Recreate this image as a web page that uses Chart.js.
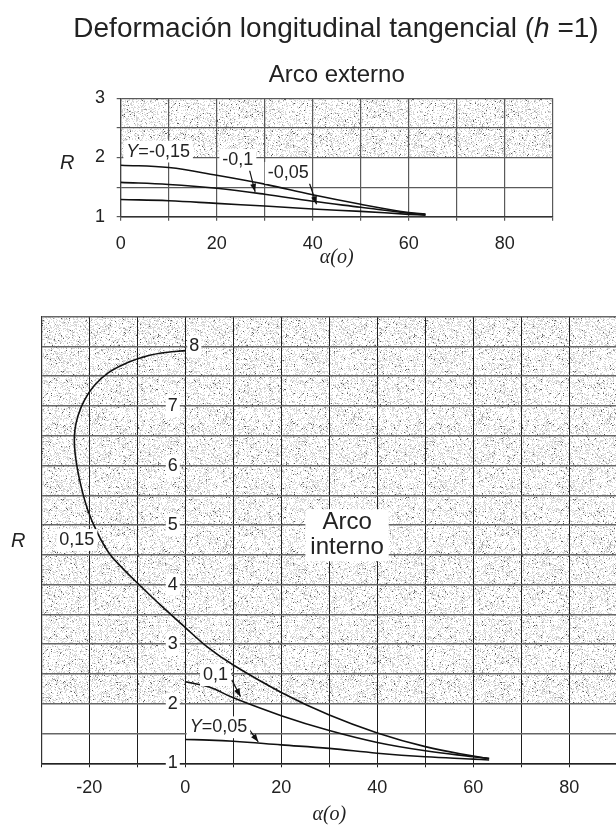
<!DOCTYPE html>
<html>
<head>
<meta charset="utf-8">
<script src="https://cdn.jsdelivr.net/npm/chart.js@4.4.0/dist/chart.umd.min.js"></script>
<style>
  html, body { margin: 0; padding: 0; background: #fff; }
  body { position: relative; width: 616px; height: 827px; overflow: hidden; font-family: "Liberation Sans", Arial, sans-serif; color: #222; }
  #title { position: absolute; z-index: 2; left: 0; top: 10px; width: 672px; line-height: 36px; text-align: center; font-size: 28px; white-space: nowrap; }
  .rlab { position: absolute; z-index: 2; font-style: italic; font-size: 20px; line-height: 20px; }
  #top { position: absolute; left: 0; top: 0; }
  #bot { position: absolute; left: 0; top: 290px; }
</style>
</head>
<body>
<canvas id="top" width="616" height="275"></canvas>
<canvas id="bot" width="660" height="537"></canvas>
<div id="title">Deformación longitudinal tangencial (<i>h</i> =1)</div>
<span class="rlab" style="left:60px; top:152px;">R</span>
<span class="rlab" style="left:11px; top:530px;">R</span>
<script>
// arco externo (Y negative)
const alphaExt = [0, 10, 20, 30, 40, 50, 60, 63.5];
const rExtM015 = [1.87, 1.83, 1.70, 1.55, 1.37, 1.21, 1.07, 1.045];
const rExtM010 = [1.58, 1.545, 1.48, 1.38, 1.26, 1.16, 1.06, 1.035];
const rExtM005 = [1.29, 1.27, 1.225, 1.18, 1.13, 1.09, 1.04, 1.025];

// arco interno (Y positive) - the 0,15 curve bends back to negative alpha
const alphaInt015 = [0, -4, -8, -12, -16, -19, -21, -22.3, -23, -23.1, -22.7, -21.8, -20.3, -18.3, -15.8, -13, -10, -5.2, 0, 4.5, 10, 20, 30, 40, 50, 60, 63.3];
const rInt015 = [7.93, 7.9, 7.84, 7.73, 7.56, 7.34, 7.1, 6.85, 6.6, 6.35, 6.05, 5.68, 5.25, 4.87, 4.52, 4.27, 4.03, 3.66, 3.28, 2.96, 2.65, 2.19, 1.81, 1.51, 1.28, 1.12, 1.08];
const alphaInt = [0, 5, 10, 20, 30, 40, 50, 60, 63.3];
const rInt010 = [2.37, 2.28, 2.10, 1.80, 1.55, 1.35, 1.21, 1.11, 1.08];
const rInt005 = [1.40, 1.39, 1.37, 1.31, 1.25, 1.17, 1.11, 1.07, 1.055];

const xLabelsExt = [0, 20, 40, 60, 80];
const xLabelsInt = [-20, 0, 20, 40, 60, 80];
const rLabelsExt = [1, 2, 3];
const rLabelsInt = [1, 2, 3, 4, 5, 6, 7, 8];

const FONT = '"Liberation Sans", Arial, sans-serif';
const INK = '#222';

function pts(xs, ys) {
  return xs.map((x, i) => ({ x: x, y: ys[i] }));
}

function curve(data) {
  return { data: data, showLine: true, pointRadius: 0, borderColor: '#111', borderWidth: 1.6, tension: 0.4 };
}

// stipple texture for the shaded band (fixed seed, just a texture)
const stipple = (function () {
  const c = document.createElement('canvas');
  c.width = c.height = 128;
  const g = c.getContext('2d');
  const img = g.createImageData(128, 128);
  let s = 20240601;
  for (let i = 0; i < 128 * 128; i++) {
    s = (Math.imul(s, 1103515245) + 12345) >>> 0;
    const h = (s >>> 8) / 16777216;
    let v = 255;
    if (h < 0.015) v = 90;
    else if (h < 0.05) v = 160;
    else if (h < 0.32) v = 215;
    img.data[i * 4] = img.data[i * 4 + 1] = img.data[i * 4 + 2] = v;
    img.data[i * 4 + 3] = 255;
  }
  g.putImageData(img, 0, 0);
  return c;
})();

const shade = {
  id: 'shade',
  beforeDraw(chart, args, opts) {
    const { ctx, chartArea: a, scales: { y } } = chart;
    ctx.save();
    ctx.fillStyle = '#fff';
    ctx.fillRect(0, 0, chart.width, chart.height);
    ctx.fillStyle = ctx.createPattern(stipple, 'repeat');
    const yb = y.getPixelForValue(opts.from);
    ctx.fillRect(a.left, a.top, a.right - a.left, yb - a.top);
    ctx.restore();
  }
};

function fontOf(size, italic) {
  return (italic ? 'italic ' : '') + size + 'px ' + FONT;
}

const notes = {
  id: 'notes',
  afterDatasetsDraw(chart, args, opts) {
    const { ctx, scales: { x, y } } = chart;
    ctx.save();
    ctx.strokeStyle = '#111';
    ctx.fillStyle = '#111';
    ctx.lineWidth = 1.2;
    (opts.arrows || []).forEach(a => {
      const x1 = x.getPixelForValue(a[0]), y1 = y.getPixelForValue(a[1]);
      const x2 = x.getPixelForValue(a[2]), y2 = y.getPixelForValue(a[3]);
      const ang = Math.atan2(y2 - y1, x2 - x1);
      ctx.beginPath();
      ctx.moveTo(x1, y1);
      ctx.lineTo(x2, y2);
      ctx.stroke();
      ctx.beginPath();
      ctx.moveTo(x2, y2);
      ctx.lineTo(x2 - 8 * Math.cos(ang) + 3 * Math.sin(ang), y2 - 8 * Math.sin(ang) - 3 * Math.cos(ang));
      ctx.lineTo(x2 - 8 * Math.cos(ang) - 3 * Math.sin(ang), y2 - 8 * Math.sin(ang) + 3 * Math.cos(ang));
      ctx.closePath();
      ctx.fill();
    });
    ctx.textBaseline = 'middle';
    (opts.labels || []).forEach(l => {
      const size = l.size || 18;
      const lh = l.lineHeight || size * 1.1;
      const lines = l.lines.map(parts => {
        let w = 0;
        parts.forEach(p => { ctx.font = fontOf(size, p.i); w += ctx.measureText(p.t).width; });
        return { parts: parts, w: w };
      });
      const maxW = Math.max(...lines.map(ln => ln.w));
      const cx = x.getPixelForValue(l.x) + (l.dx || 0);
      const cy = y.getPixelForValue(l.y);
      const h = lh * lines.length;
      const left = l.align === 'right' ? cx - maxW : l.align === 'left' ? cx : cx - maxW / 2;
      const pad = l.pad == null ? 3 : l.pad;
      ctx.fillStyle = '#fff';
      ctx.fillRect(left - pad, cy - h / 2 - 1, maxW + 2 * pad, h + 2);
      ctx.fillStyle = INK;
      lines.forEach((ln, k) => {
        let px = l.align === 'right' ? cx - ln.w : l.align === 'left' ? cx : cx - ln.w / 2;
        const py = cy - h / 2 + lh * (k + 0.5);
        ln.parts.forEach(p => {
          ctx.font = fontOf(size, p.i);
          ctx.fillText(p.t, px, py);
          px += ctx.measureText(p.t).width;
        });
      });
    });
    ctx.restore();
  }
};

function fixed(prop, v) {
  return function (scale) { scale[prop] = v; };
}

// ---------- Arco externo ----------
new Chart(document.getElementById('top'), {
  type: 'scatter',
  data: {
    datasets: [curve(pts(alphaExt, rExtM015)), curve(pts(alphaExt, rExtM010)), curve(pts(alphaExt, rExtM005))]
  },
  options: {
    responsive: false,
    animation: false,
    layout: { padding: { left: 0, right: 63.3, top: 0, bottom: 0 } },
    scales: {
      x: {
        type: 'linear', min: 0, max: 90,
        afterFit: fixed('height', 58.3),
        ticks: {
          stepSize: 10, autoSkip: false, maxRotation: 0, padding: 13, color: INK,
          font: { family: FONT, size: 18 },
          callback: v => xLabelsExt.includes(v) ? String(v) : ''
        },
        grid: { color: '#5a5a5a', lineWidth: 1.2, tickLength: 4 },
        border: { color: '#333', width: 1.4 },
        title: { display: true, text: 'α(o)', color: INK, font: { family: '"Liberation Serif", serif', size: 20, style: 'italic' }, padding: { top: 0, bottom: 5 } }
      },
      y: {
        min: 1, max: 3,
        afterFit: fixed('width', 120.7),
        ticks: {
          stepSize: 0.5, autoSkip: false, padding: 11.7, color: INK,
          font: { family: FONT, size: 18 },
          callback: v => rLabelsExt.includes(v) ? String(v) : ''
        },
        grid: { color: '#5a5a5a', lineWidth: 1.2, tickLength: 4 },
        border: { color: '#444', width: 1.2 }
      }
    },
    plugins: {
      legend: { display: false },
      tooltip: { enabled: false },
      title: {
        display: true, fullSize: false, text: 'Arco externo', color: INK,
        font: { family: FONT, size: 24, weight: 'normal' },
        padding: { top: 60.6, bottom: 8.9 }
      },
      shade: { from: 2 },
      notes: {
        labels: [
          { x: 7.8, y: 2.1, lines: [[{ t: 'Y', i: true }, { t: '=-0,15' }]] },
          { x: 24.4, y: 1.96, lines: [[{ t: '-0,1' }]] },
          { x: 34.9, y: 1.74, lines: [[{ t: '-0,05' }]] }
        ],
        arrows: [[26.8, 1.80, 28.0, 1.42], [39.1, 1.62, 40.8, 1.21]]
      }
    }
  },
  plugins: [shade, notes]
});

// ---------- Arco interno ----------
const rTickNotes = rLabelsInt.map(v => (
  v === 8
    ? { x: 0, y: v, dx: 4, align: 'left', pad: 2, lines: [[{ t: String(v) }]] }
    : { x: 0, y: v, dx: -7.5, align: 'right', pad: 2, lines: [[{ t: String(v) }]] }
));

new Chart(document.getElementById('bot'), {
  type: 'scatter',
  data: {
    datasets: [curve(pts(alphaInt015, rInt015)), curve(pts(alphaInt, rInt010)), curve(pts(alphaInt, rInt005))]
  },
  options: {
    responsive: false,
    animation: false,
    layout: { padding: { left: 0, right: 42.7, top: 26.7, bottom: 0 } },
    scales: {
      x: {
        type: 'linear', min: -30, max: 90,
        afterFit: fixed('height', 63.7),
        ticks: {
          stepSize: 10, autoSkip: false, maxRotation: 0, padding: 10.2, color: INK,
          font: { family: FONT, size: 18 },
          callback: v => xLabelsInt.includes(v) ? String(v) : ''
        },
        grid: { color: '#1e1e1e', lineWidth: 1, tickLength: 4 },
        border: { color: '#222', width: 1.4 },
        title: { display: true, text: 'α(o)', color: INK, font: { family: '"Liberation Serif", serif', size: 20, style: 'italic' }, padding: { top: 0, bottom: 0 } }
      },
      y: {
        min: 1, max: 8.5,
        afterFit: fixed('width', 41.3),
        ticks: { stepSize: 0.5, autoSkip: false, display: false },
        grid: { color: '#666', lineWidth: 1.6, drawTicks: false },
        border: { color: '#333', width: 1.2 }
      }
    },
    plugins: {
      legend: { display: false },
      tooltip: { enabled: false },
      shade: { from: 2 },
      notes: {
        labels: rTickNotes.concat([
          { x: -22.6, y: 4.75, lines: [[{ t: '0,15' }]] },
          { x: 33.7, y: 4.83, size: 24, lineHeight: 25, pad: 5, lines: [[{ t: 'Arco' }], [{ t: 'interno' }]] },
          { x: 6.3, y: 2.48, lines: [[{ t: '0,1' }]] },
          { x: 6.9, y: 1.605, lines: [[{ t: 'Y', i: true }, { t: '=0,05' }]] }
        ]),
        arrows: [[9.7, 2.40, 11.5, 2.12], [13.1, 1.59, 15.2, 1.36]]
      }
    }
  },
  plugins: [shade, notes]
});
</script>
</body>
</html>
